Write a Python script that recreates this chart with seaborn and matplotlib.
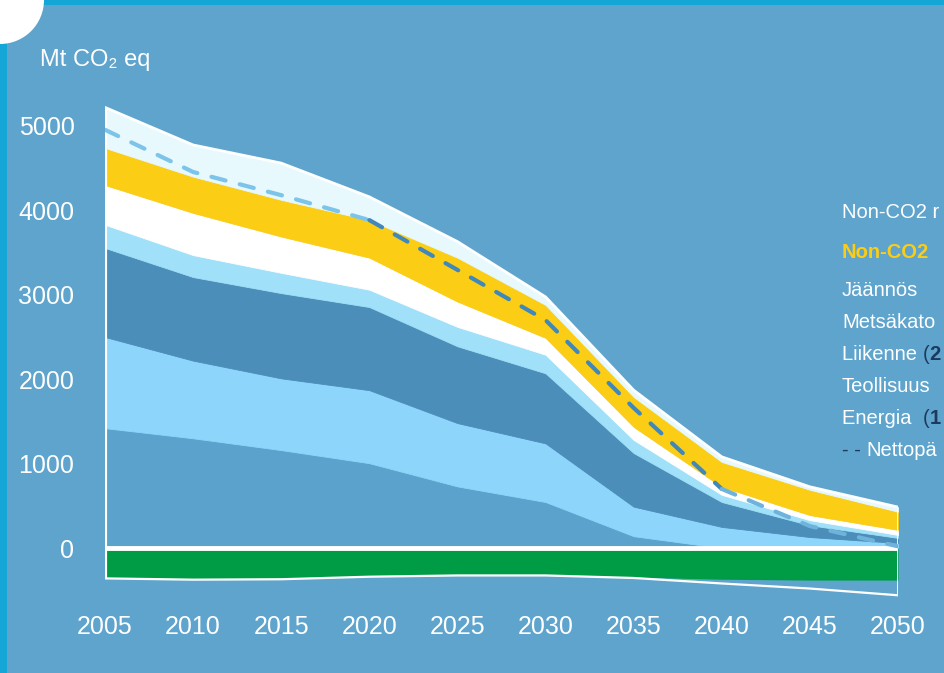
import numpy as np
import pandas as pd
import matplotlib
matplotlib.use("Agg")
import matplotlib.pyplot as plt
import seaborn as sns
from matplotlib.patches import Rectangle, Ellipse

# Päästöpolku 2005-2050, Mt CO2 eq (luettu kuvasta)
years = [2005, 2010, 2015, 2020, 2025, 2030, 2035, 2040, 2045, 2050]
energia = [1420, 1300, 1160, 1005, 730, 545, 140, 0, 0, 0]
teollisuus = [1080, 920, 850, 865, 750, 695, 350, 250, 130, 60]
liikenne = [1055, 990, 1010, 985, 910, 830, 635, 295, 140, 60]
metsakato = [275, 260, 240, 205, 230, 220, 155, 85, 60, 35]
jaannos = [470, 500, 430, 380, 300, 200, 155, 95, 60, 60]
non_co2 = [440, 430, 435, 445, 520, 390, 355, 295, 300, 215]
non_co2_r = [480, 375, 435, 275, 190, 95, 80, 60, 35, 55]
nielu = [-355, -370, -365, -335, -320, -320, -345, -370, -380, -380]
nielu_reuna = [-360, -375, -370, -340, -325, -325, -355, -420, -480, -560]
netto = [4955, 4455, 4180, 3885, 3295, 2700, 1660, 700, 260, 20]

y_ticks = [0, 1000, 2000, 3000, 4000, 5000]

legend_rows = ["Non-CO2 r", "Non-CO2", "Jäännös", "Metsäkato", "Liikenne ",
               "Teollisuus", "Energia  ", "Nettopä"]

BG = "#5ea4cd"
layer_colors = ["#5ba2cd", "#8ed5fb", "#4b8eb9", "#a0e0f8", "#ffffff",
                "#fccd15", "#e8f9fd"]

sns.set_theme(style="white")
plt.rcParams["font.family"] = ["Liberation Sans Narrow", "Liberation Sans", "DejaVu Sans"]

fig = plt.figure(figsize=(9.44, 6.73), dpi=100)
fig.patch.set_facecolor(BG)
ax = fig.add_axes([105 / 944, 1 - 607.1 / 673, 793 / 944, (607.1 - 92.2) / 673])
ax.set_facecolor(BG)

# pinotut alueet
df = pd.DataFrame({"energia": energia, "teollisuus": teollisuus, "liikenne": liikenne,
                   "metsakato": metsakato, "jaannos": jaannos, "non_co2": non_co2,
                   "non_co2_r": non_co2_r}, index=years)
cum = df.cumsum(axis=1)
prev = np.zeros(len(years))
for col, c in zip(df.columns, layer_colors):
    ax.fill_between(years, prev, cum[col].values, color=c, edgecolor=c, linewidth=0.6)
    prev = cum[col].values
total = cum["non_co2_r"].values

# nielu (negatiivinen)
ax.fill_between(years, 0, nielu, color="#009c45", linewidth=0)
ax.plot(years, nielu_reuna, color="white", lw=1.6)
ax.plot(years, total, color="white", lw=2)
ax.hlines(0, years[0], years[-1], color="white", lw=3.5)
ax.vlines(years[0], nielu[0], total[0], color="white", lw=3)
ax.vlines(years[-1], nielu_reuna[-1], total[-1], color="white", lw=2)

# nettopäästöt katkoviivalla
net = pd.DataFrame({"vuosi": years, "netto": netto})
seg1 = net[net.vuosi <= 2020]
seg2 = net[(net.vuosi >= 2020) & (net.vuosi <= 2040)]
seg3 = net[net.vuosi >= 2040]
for seg, c in [(seg1, "#7cc4ea"), (seg2, "#3f88b9"), (seg3, "#6fb3dc")]:
    sns.lineplot(data=seg, x="vuosi", y="netto", ax=ax, color=c, lw=3,
                 linestyle=(0, (3.5, 3.5)), dash_capstyle="round")

ax.set_xlim(2005, 2050)
ax.set_ylim(-700, 5400)
ax.set_xticks(years)
ax.set_yticks(y_ticks)
ax.set_xlabel("")
ax.set_ylabel("")
ax.tick_params(colors="white", labelsize=18, length=0)
ax.tick_params(axis="y", pad=22)
ax.tick_params(axis="x", pad=6)
for s in ax.spines.values():
    s.set_visible(False)
ax.grid(False)

fig.text(40 / 944, 1 - 60 / 673, "Mt CO₂ eq", color="white", fontsize=17, va="center")

# selitteet oikealla
lx = 842 / 944
fs = 14.5
ys = [213, 253, 290, 322, 354, 386, 418, 450]
navy = "#1d3a5c"
fig.text(lx, 1 - ys[0] / 673, legend_rows[0], color="white", fontsize=fs, va="center")
fig.text(lx, 1 - ys[1] / 673, legend_rows[1], color="#fccd15", fontsize=fs,
         fontweight="bold", va="center")
for i in [2, 3, 5]:
    fig.text(lx, 1 - ys[i] / 673, legend_rows[i], color="white", fontsize=fs, va="center")
t = fig.text(lx, 1 - ys[4] / 673, legend_rows[4], color="white", fontsize=fs, va="center")
t2 = ax.annotate("(", xy=(1, 0), xycoords=t, color=navy, fontsize=fs, va="bottom")
ax.annotate("2", xy=(1, 0), xycoords=t2, color=navy, fontsize=fs, fontweight="bold",
            va="bottom")
t = fig.text(lx, 1 - ys[6] / 673, legend_rows[6], color="white", fontsize=fs, va="center")
t2 = ax.annotate("(", xy=(1, 0), xycoords=t, color=navy, fontsize=fs, va="bottom")
ax.annotate("1", xy=(1, 0), xycoords=t2, color=navy, fontsize=fs, fontweight="bold",
            va="bottom")
t = fig.text(lx, 1 - ys[7] / 673, "- - ", color=navy, fontsize=fs, va="center")
ax.annotate(legend_rows[7], xy=(1, 0), xycoords=t, color="white", fontsize=fs, va="bottom")

# reunat ja kulman logo
fig.add_artist(Rectangle((0, 1 - 5 / 673), 1, 5 / 673, transform=fig.transFigure,
                         color="#14a6d6", lw=0))
fig.add_artist(Rectangle((0, 0), 7 / 944, 1, transform=fig.transFigure,
                         color="#14a6d6", lw=0))
fig.add_artist(Ellipse((0, 1), 2 * 44 / 944, 2 * 44 / 673, transform=fig.transFigure,
                       color="white", lw=0))

fig.savefig("out.png", dpi=100, facecolor=fig.get_facecolor())
